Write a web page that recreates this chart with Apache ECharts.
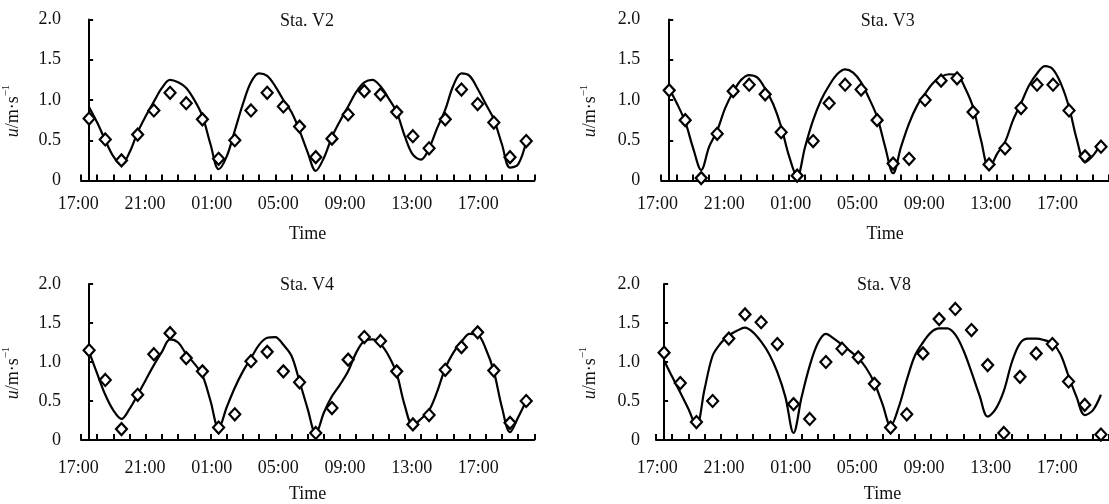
<!DOCTYPE html>
<html>
<head>
<meta charset="utf-8">
<script src="https://cdn.jsdelivr.net/npm/echarts@6.0.0/dist/echarts.min.js"></script>
<style>
html,body{margin:0;padding:0;background:#fff;}
#chart{width:1109px;height:504px;}
</style>
</head>
<body>
<div id="chart"></div>
<script>
// ---- data ----
const stations = ['Sta. V2', 'Sta. V3', 'Sta. V4', 'Sta. V8'];
const timeLabels = ['17:00', '21:00', '01:00', '05:00', '09:00', '13:00', '17:00'];
const xAxisName = 'Time';

// observed values (hourly samples, 28 per station)
const obsV2 = [0.77,0.51,0.25,0.57,0.87,1.09,0.96,0.76,0.27,0.50,0.87,1.09,0.92,0.67,0.29,0.52,0.82,1.11,1.07,0.85,0.55,0.40,0.76,1.13,0.95,0.72,0.29,0.49];
const obsV3 = [1.12,0.75,0.03,0.58,1.11,1.19,1.07,0.60,0.06,0.49,0.96,1.19,1.13,0.75,0.21,0.27,1.00,1.24,1.27,0.85,0.20,0.40,0.90,1.19,1.19,0.87,0.30,0.42];
const obsV4 = [1.15,0.77,0.14,0.58,1.10,1.37,1.05,0.88,0.16,0.33,1.01,1.13,0.88,0.74,0.09,0.41,1.03,1.32,1.27,0.88,0.20,0.32,0.90,1.19,1.38,0.89,0.22,0.50];
const obsV8 = [1.12,0.73,0.23,0.50,1.30,1.61,1.51,1.23,0.46,0.27,1.00,1.17,1.06,0.72,0.16,0.33,1.11,1.55,1.68,1.41,0.96,0.09,0.81,1.11,1.23,0.75,0.45,0.07];

// simulated values (half-sample steps, 55 per station)
const modelV2 = [0.91,0.72,0.50,0.30,0.20,0.35,0.60,0.80,0.98,1.15,1.25,1.22,1.15,1.00,0.80,0.45,0.14,0.30,0.62,0.95,1.22,1.33,1.30,1.17,1.00,0.85,0.62,0.35,0.12,0.28,0.54,0.74,0.92,1.10,1.22,1.25,1.17,1.02,0.85,0.55,0.32,0.26,0.40,0.65,0.88,1.18,1.33,1.30,1.14,0.95,0.76,0.45,0.16,0.20,0.48];
const modelV3 = [1.14,0.95,0.73,0.40,0.13,0.42,0.62,0.90,1.10,1.25,1.31,1.28,1.14,0.95,0.67,0.30,0.05,0.42,0.75,1.00,1.18,1.32,1.38,1.34,1.22,1.02,0.79,0.42,0.09,0.42,0.71,0.93,1.08,1.21,1.29,1.32,1.31,1.15,0.91,0.50,0.15,0.33,0.48,0.75,0.96,1.18,1.33,1.42,1.38,1.20,0.91,0.50,0.23,0.31,0.46];
const modelV4 = [1.13,0.85,0.58,0.38,0.27,0.40,0.58,0.77,0.96,1.13,1.29,1.25,1.10,0.98,0.83,0.50,0.15,0.42,0.67,0.88,1.05,1.22,1.31,1.32,1.22,1.08,0.75,0.40,0.08,0.35,0.56,0.71,0.88,1.12,1.27,1.29,1.23,1.08,0.85,0.44,0.19,0.27,0.38,0.62,0.92,1.12,1.26,1.36,1.35,1.17,0.88,0.42,0.10,0.29,0.50];
const modelV8 = [1.02,0.81,0.61,0.40,0.18,0.65,1.08,1.24,1.34,1.40,1.44,1.38,1.26,1.10,0.87,0.55,0.09,0.55,0.95,1.24,1.36,1.30,1.22,1.14,1.05,0.92,0.73,0.46,0.18,0.42,0.77,1.08,1.25,1.38,1.43,1.43,1.35,1.15,0.87,0.57,0.30,0.40,0.63,1.00,1.24,1.30,1.30,1.28,1.24,1.10,0.82,0.55,0.32,0.38,0.58];

const observed = [obsV2, obsV3, obsV4, obsV8];
const modeled = [modelV2, modelV3, modelV4, modelV8];

// ---- layout ----
const FONT = '"Liberation Serif", "Times New Roman", serif';
const TXT = '#111';
const FS = 18;
const layout = [
  {left: 80.7, top: 19.5, width: 453.6, height: 161, labLeft: 78.3, nameGap: 59, labMargin: 20},
  {left: 661.2, top: 19.5, width: 454, height: 161, labLeft: 657.5, nameGap: 62, labMargin: 21},
  {left: 80.7, top: 284, width: 453.6, height: 160, labLeft: 78.3, nameGap: 59, labMargin: 20},
  {left: 656, top: 284, width: 457, height: 160, labLeft: 657.3, nameGap: 57, labMargin: 16}
];

const grid = [], xAxis = [], yAxis = [], series = [], title = [];
layout.forEach((L, p) => {
  const g = 2 * p;
  grid.push({left: L.left, top: L.top, width: L.width, height: L.height, containLabel: false});
  grid.push({left: L.labLeft, top: L.top, width: 400, height: L.height, containLabel: false});
  xAxis.push({
    type: 'value', gridIndex: g, min: -0.5, max: 27.5, interval: 1,
    axisLine: {show: true, onZero: false, lineStyle: {color: '#000', width: 2}},
    axisTick: {show: true, inside: true, length: 6, lineStyle: {color: '#000', width: 2}},
    axisLabel: {show: false}, splitLine: {show: false},
    name: xAxisName, nameLocation: 'middle', nameGap: 45,
    nameTextStyle: {fontFamily: FONT, fontSize: FS, color: TXT}
  });
  xAxis.push({
    type: 'category', gridIndex: g + 1, data: timeLabels, boundaryGap: false,
    axisLine: {show: false}, axisTick: {show: false}, splitLine: {show: false},
    axisLabel: {interval: 0, margin: 15, fontFamily: FONT, fontSize: FS, color: TXT}
  });
  yAxis.push({
    type: 'value', gridIndex: g, min: 0, max: 2, interval: 0.5,
    axisLine: {show: true, lineStyle: {color: '#000', width: 2}},
    axisTick: {show: true, inside: true, length: 4, lineStyle: {color: '#000', width: 2}},
    splitLine: {show: false},
    axisLabel: {margin: L.labMargin, fontFamily: FONT, fontSize: FS, color: TXT, padding: [3, 0, 0, 0],
      formatter: v => v === 0 ? '0' : v.toFixed(1)},
    name: '{i|u}{n|/m·s}{s|−1}', nameLocation: 'middle', nameGap: L.nameGap,
    nameTextStyle: {
      color: TXT, fontFamily: FONT, fontSize: FS, padding: [0, 22, 0, 0],
      rich: {
        i: {fontFamily: FONT, fontSize: FS, fontStyle: 'italic', color: TXT, verticalAlign: 'bottom', lineHeight: 21},
        n: {fontFamily: FONT, fontSize: FS, color: TXT, verticalAlign: 'bottom', lineHeight: 21},
        s: {fontFamily: FONT, fontSize: 11, color: TXT, verticalAlign: 'top', lineHeight: 21}
      }
    }
  });
  yAxis.push({type: 'value', gridIndex: g + 1, show: false, min: 0, max: 2});
  title.push({
    text: stations[p], left: L.left + L.width / 2 - 0.5, top: L.top - 7.5, textAlign: 'center', padding: 0,
    textStyle: {fontFamily: FONT, fontSize: FS, fontWeight: 'normal', color: TXT}
  });
  series.push({
    type: 'line', xAxisIndex: g, yAxisIndex: g, symbol: 'none', smooth: 0.35,
    lineStyle: {color: '#000', width: 2.2}, z: 2, silent: true,
    data: modeled[p].map((v, k) => [k * 0.5, v])
  });
  series.push({
    type: 'scatter', xAxisIndex: g, yAxisIndex: g, symbol: 'diamond', symbolSize: [11, 12],
    itemStyle: {color: '#fff', borderColor: '#000', borderWidth: 2.2, opacity: 1}, z: 3, silent: true,
    data: observed[p].map((v, k) => [k, v])
  });
});

const chart = echarts.init(document.getElementById('chart'), null, {renderer: 'canvas'});
chart.setOption({
  animation: false,
  backgroundColor: '#fff',
  textStyle: {fontFamily: FONT},
  title, grid, xAxis, yAxis, series
});
</script>
</body>
</html>
